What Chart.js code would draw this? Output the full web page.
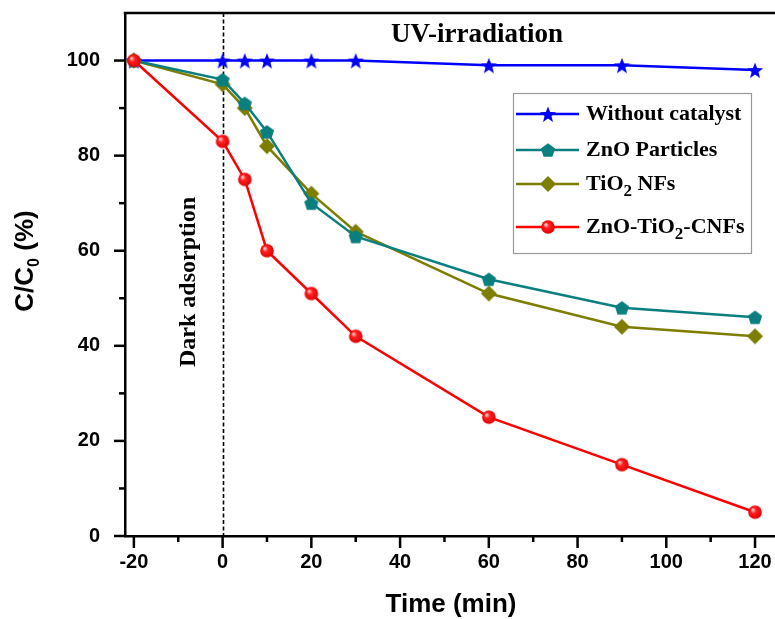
<!DOCTYPE html>
<html><head><meta charset="utf-8">
<script src="https://cdn.jsdelivr.net/npm/chart.js@4.4.1/dist/chart.umd.min.js"></script>
<style>html,body{margin:0;padding:0;background:#fff}#wrap{width:775px;height:619px}</style>
</head><body><div id="wrap"><canvas id="c" width="775" height="619"></canvas></div>
<script>
const times = [-20, 0, 5, 10, 20, 30, 60, 90, 120];
const withoutCatalyst = [100, 100, 100, 100, 100, 100, 99, 99, 98];
const znoParticles = [100, 96, 91, 85, 70, 63, 54, 48, 46];
const tio2NFs = [100, 95, 90, 82, 72, 64, 51, 44, 42];
const znoTio2Cnfs = [100, 83, 75, 60, 51, 42, 25, 15, 5];
const xTickValues = [-20, -10, 0, 10, 20, 30, 40, 50, 60, 70, 80, 90, 100, 110, 120];
const yTickValues = [0, 10, 20, 30, 40, 50, 60, 70, 80, 90, 100];
const seriesNames = ["Without catalyst", "ZnO Particles", "TiO2 NFs", "ZnO-TiO2-CNFs"];

function mk(size, draw){const c=document.createElement('canvas');c.width=size;c.height=size;const g=c.getContext('2d');draw(g,size/2);return c;}
const starImg = mk(18,(g,r)=>{g.beginPath();for(let i=0;i<10;i++){const a=-Math.PI/2+i*Math.PI/5;const rr=i%2?3.6:8.5;g.lineTo(r+rr*Math.cos(a),r+1+rr*Math.sin(a));}g.closePath();g.fillStyle='#0000ff';g.fill();});
const pentImg = mk(18,(g,r)=>{g.beginPath();for(let i=0;i<5;i++){const a=-Math.PI/2+i*2*Math.PI/5;g.lineTo(r+7.5*Math.cos(a),r+0.8+7.5*Math.sin(a));}g.closePath();g.fillStyle='#0b7f7f';g.fill();});
const diaImg = mk(18,(g,r)=>{g.beginPath();g.moveTo(r,r-8);g.lineTo(r+8,r);g.lineTo(r,r+8);g.lineTo(r-8,r);g.closePath();g.fillStyle='#7d7d00';g.fill();});
const ballImg = mk(18,(g,r)=>{const gr=g.createRadialGradient(r-2.5,r-2.5,0.5,r,r,7);gr.addColorStop(0,'#ffd0d0');gr.addColorStop(0.35,'#ff2020');gr.addColorStop(1,'#e00000');g.beginPath();g.arc(r,r,6.8,0,Math.PI*2);g.fillStyle=gr;g.fill();});

const helper = {
  id:'helper',
  beforeDatasetsDraw(chart){
    const {ctx, chartArea:ca, scales:{x,y}} = chart;
    ctx.save();
    ctx.strokeStyle='#000';ctx.lineWidth=1.6;ctx.setLineDash([4,2.5]);
    const px=Math.round(x.getPixelForValue(0))+0.5;
    ctx.beginPath();ctx.moveTo(px,ca.top);ctx.lineTo(px,ca.bottom);ctx.stroke();
    ctx.restore();
  },
  afterDraw(chart){
    const {ctx, chartArea:ca, scales:{x,y}} = chart;
    ctx.save();
    ctx.strokeStyle='#000';ctx.lineWidth=2.5;ctx.lineCap='butt';
    ctx.beginPath();ctx.moveTo(ca.left-1.25,ca.top);ctx.lineTo(ca.right,ca.top);ctx.stroke();
    xTickValues.forEach(v=>{const p=x.getPixelForValue(v);const L=(v%20===0)?12:6;ctx.beginPath();ctx.moveTo(p,ca.bottom);ctx.lineTo(p,ca.bottom+L);ctx.stroke();});
    yTickValues.forEach(v=>{const p=y.getPixelForValue(v);const L=(v%20===0)?11:6;ctx.beginPath();ctx.moveTo(ca.left,p);ctx.lineTo(ca.left-L,p);ctx.stroke();});
    ctx.fillStyle='#000';
    ctx.font='bold 26px "Liberation Sans", Arial, sans-serif';ctx.textBaseline='alphabetic';ctx.textAlign='center';
    ctx.fillText('Time (min)',451,612);
    ctx.save();ctx.translate(33,261);ctx.rotate(-Math.PI/2);
    const p1='C/C', p2='0', p3=' (%)';
    const big='bold 26px "Liberation Sans", Arial, sans-serif', small='bold 16px "Liberation Sans", Arial, sans-serif';
    ctx.font=big;const w1=ctx.measureText(p1).width,w3=ctx.measureText(p3).width;
    ctx.font=small;const w2=ctx.measureText(p2).width;
    let sx=-(w1+w2+w3)/2;ctx.textAlign='left';
    ctx.font=big;ctx.fillText(p1,sx,0);sx+=w1;
    ctx.font=small;ctx.fillText(p2,sx,6);sx+=w2;
    ctx.font=big;ctx.fillText(p3,sx,0);
    ctx.restore();
    ctx.font='bold 27px "Liberation Serif", "Times New Roman", serif';ctx.textAlign='center';
    ctx.fillText('UV-irradiation',477,42);
    ctx.save();ctx.translate(195,282);ctx.rotate(-Math.PI/2);ctx.font='bold 24px "Liberation Serif", "Times New Roman", serif';ctx.fillText('Dark adsorption',0,0);ctx.restore();
    ctx.fillStyle='#fff';ctx.fillRect(513,93,238,160);
    ctx.strokeStyle='#999';ctx.lineWidth=1.2;ctx.strokeRect(513.5,93.5,238,160);
    const items=[
      {c:'#0000ff',img:starImg,y:114,parts:[['Without catalyst',0]]},
      {c:'#0b7f7f',img:pentImg,y:150,parts:[['ZnO Particles',0]]},
      {c:'#7d7d00',img:diaImg,y:184,parts:[['TiO',0],['2',1],[' NFs',0]]},
      {c:'#ff0000',img:ballImg,y:227,parts:[['ZnO-TiO',0],['2',1],['-CNFs',0]]}
    ];
    items.forEach(it=>{
      ctx.strokeStyle=it.c;ctx.lineWidth=2.5;ctx.beginPath();ctx.moveTo(516,it.y);ctx.lineTo(579,it.y);ctx.stroke();
      ctx.drawImage(it.img,548-9,it.y-9);
      let tx=586;ctx.textAlign='left';ctx.textBaseline='middle';ctx.fillStyle='#000';
      it.parts.forEach(([t,sub])=>{
        ctx.font=sub?'bold 17px "Liberation Serif", serif':'bold 22px "Liberation Serif", serif';
        ctx.fillText(t,tx,it.y+(sub?8:0));tx+=ctx.measureText(t).width;
      });
    });
    ctx.restore();
  }
};

const zeroPad = s=>{s.paddingLeft=0;s.paddingRight=0;s.paddingTop=0;s.paddingBottom=0;};
const mkData=(arr)=>times.map((t,i)=>({x:t,y:arr[i]}));
new Chart(document.getElementById('c'),{
  type:'line',
  data:{datasets:[
    {label:seriesNames[3],data:mkData(znoTio2Cnfs),borderColor:'#ff0000',pointStyle:ballImg,borderWidth:2.5},
    {label:seriesNames[1],data:mkData(znoParticles),borderColor:'#0b7f7f',pointStyle:pentImg,borderWidth:2.5},
    {label:seriesNames[2],data:mkData(tio2NFs),borderColor:'#7d7d00',pointStyle:diaImg,borderWidth:2.5},
    {label:seriesNames[0],data:mkData(withoutCatalyst),borderColor:'#0000ff',pointStyle:starImg,borderWidth:2.5}
  ]},
  options:{
    responsive:false,animation:false,
    layout:{autoPadding:false,padding:{top:13,left:0,right:0,bottom:0}},
    plugins:{legend:{display:false},tooltip:{enabled:false}},
    elements:{line:{tension:0},point:{radius:7}},
    scales:{
      x:{type:'linear',min:-22,max:124.5,
        afterBuildTicks:s=>{s.ticks=xTickValues.filter(v=>v%20===0).map(v=>({value:v}));},
        afterFit:s=>{s.height=83;zeroPad(s);},
        grid:{display:false},border:{display:true,color:'#000',width:2.5},
        ticks:{padding:6,color:'#000',font:{family:'"Liberation Sans", Arial, sans-serif',size:20,weight:'bold'},maxRotation:0,autoSkip:false}},
      y:{type:'linear',min:0,max:110,
        afterBuildTicks:s=>{s.ticks=yTickValues.filter(v=>v%20===0).map(v=>({value:v}));},
        afterFit:s=>{s.width=125;zeroPad(s);},
        grid:{display:false},border:{display:true,color:'#000',width:2.5},
        ticks:{padding:17,color:'#000',font:{family:'"Liberation Sans", Arial, sans-serif',size:20,weight:'bold'}}}
    }
  },
  plugins:[helper]
});
</script></body></html>
